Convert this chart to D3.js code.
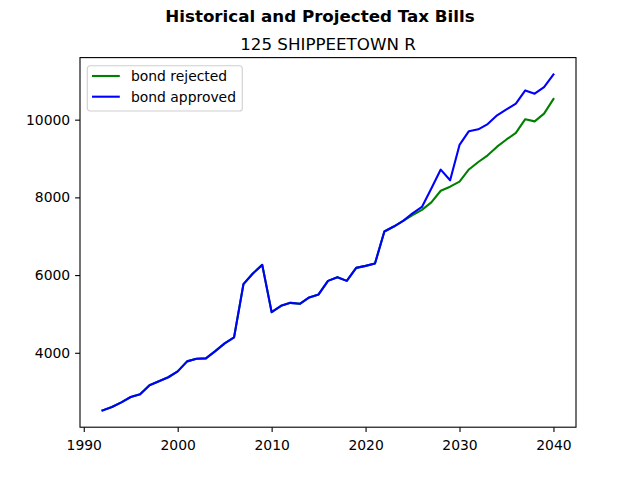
<!DOCTYPE html>
<html>
<head>
<meta charset="utf-8">
<script src="https://cdn.jsdelivr.net/npm/d3@7"></script>
<style>
  body { margin: 0; background: #fff; }
  svg { display: block; font-family: "DejaVu Sans", sans-serif; }
  .tick text { font-family: "DejaVu Sans", sans-serif; font-size: 13.9px; fill: #000; }
  .tick line { stroke: #000; stroke-width: 1.1; }
  .domain { display: none; }
</style>
</head>
<body>
<svg id="chart" width="640" height="480"></svg>
<script>

var years = [];
for (var yr = 1992; yr <= 2040; yr++) years.push(yr);

// same for both lines up to 2024
var pastBills = [2517, 2604, 2725, 2861, 2931, 3165, 3267, 3370, 3522, 3779,
                 3846, 3856, 4044, 4242, 4396, 5766, 6041, 6262, 5046, 5209,
                 5285, 5260, 5424, 5501, 5851, 5946, 5851, 6185, 6237, 6298,
                 7121, 7249, 7395];

var rejected = pastBills.concat([7545, 7680, 7870, 8170, 8275, 8405, 8718, 8910,
                                 9082, 9305, 9490, 9660, 10012, 9956, 10154, 10530]);

var approved = pastBills.concat([7590, 7753, 8226, 8715, 8440, 9350, 9703, 9751,
                                 9887, 10111, 10265, 10411, 10753, 10668, 10838, 11165]);

var seriesNames = ["bond rejected", "bond approved"];
var seriesColors = ["green", "blue"];

var xTicks = [1990, 2000, 2010, 2020, 2030, 2040];
var yTicks = [4000, 6000, 8000, 10000];

var svg = d3.select("#chart");

var axL = 80, axR = 576, axT = 57.6, axB = 427.2;

// matplotlib style 5% margins
var xMin = d3.min(years), xMax = d3.max(years);
var xPad = (xMax - xMin) * 0.05;
var allVals = rejected.concat(approved);
var yMin = d3.min(allVals), yMax = d3.max(allVals);
var yPad = (yMax - yMin) * 0.05;

var x = d3.scaleLinear()
    .domain([xMin - xPad, xMax + xPad])
    .range([axL, axR]);

var y = d3.scaleLinear()
    .domain([yMin - yPad, yMax + yPad])
    .range([axB, axT]);

var xAxis = d3.axisBottom()
    .scale(x)
    .tickValues(xTicks)
    .tickFormat(d3.format("d"))
    .tickSizeInner(4.9)
    .tickSizeOuter(0)
    .tickPadding(4.9);

var yAxis = d3.axisLeft()
    .scale(y)
    .tickValues(yTicks)
    .tickFormat(d3.format("d"))
    .tickSizeInner(4.9)
    .tickSizeOuter(0)
    .tickPadding(4.9);

svg.append("g")
    .attr("class", "Xaxis")
    .attr("transform", "translate(0," + axB + ")")
    .call(xAxis);

svg.append("g")
    .attr("class", "Yaxis")
    .attr("transform", "translate(" + axL + ",0)")
    .call(yAxis);

svg.selectAll(".Xaxis text").attr("dy", "0.95em");

// lines
var data = [rejected, approved];
var line = d3.line()
    .x(function(d, i) { return x(years[i]); })
    .y(function(d) { return y(d); });

svg.selectAll("path.series")
    .data(data)
  .enter().append("path")
    .attr("class", "series")
    .attr("fill", "none")
    .attr("stroke", function(d, i) { return seriesColors[i]; })
    .attr("stroke-width", 2.1)
    .attr("stroke-linejoin", "round")
    .attr("stroke-linecap", "square")
    .attr("d", line);

// frame
svg.append("rect")
    .attr("x", axL)
    .attr("y", axT)
    .attr("width", axR - axL)
    .attr("height", axB - axT)
    .attr("fill", "none")
    .attr("stroke", "#000")
    .attr("stroke-width", 1.1);

// titles
svg.append("text")
    .attr("x", 320)
    .attr("y", 22)
    .attr("text-anchor", "middle")
    .attr("font-weight", "bold")
    .attr("font-size", "16.7px")
    .text("Historical and Projected Tax Bills");

svg.append("text")
    .attr("x", (axL + axR) / 2)
    .attr("y", 49.5)
    .attr("text-anchor", "middle")
    .attr("font-size", "16.7px")
    .text("125 SHIPPEETOWN R");

// legend
var legend = svg.append("g")
    .attr("transform", "translate(87.3,65.7)");

legend.append("rect")
    .attr("width", 155)
    .attr("height", 45.3)
    .attr("rx", 2.8)
    .attr("fill", "#fff")
    .attr("fill-opacity", 0.8)
    .attr("stroke", "#d0d0d0")
    .attr("stroke-width", 1.1);

var items = legend.selectAll("g.item")
    .data(seriesNames)
  .enter().append("g")
    .attr("class", "item")
    .attr("transform", function(d, i) { return "translate(0," + (10.3 + i * 20.7) + ")"; });

items.append("line")
    .attr("x1", 4.7)
    .attr("x2", 32.5)
    .attr("stroke", function(d, i) { return seriesColors[i]; })
    .attr("stroke-width", 2.1);

items.append("text")
    .attr("x", 43.7)
    .attr("dy", "0.35em")
    .attr("font-size", "13.9px")
    .text(function(d) { return d; });

</script>
</body>
</html>
